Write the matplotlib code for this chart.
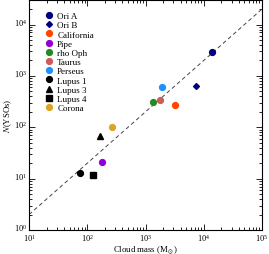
import matplotlib
matplotlib.use('Agg')
from matplotlib import pyplot as plt
from matplotlib import transforms
import numpy as np

# cloud data
clouds = ['Ori A', 'Ori B', 'California', 'Pipe', 'rho Oph', 'Taurus',
          'Perseus', 'Lupus 1', 'Lupus 3', 'Lupus 4', 'Corona']
cloud_mass = [13900, 7480, 3270, 181, 1320, 1780, 1930, 76, 165, 125, 261]
n_ysos = [2860, 625, 275, 21, 315, 340, 598, 13, 68, 12, 100]
colors = ['#000080', '#000080', '#ff4500', '#9400d3', '#228b22', '#cd5c5c',
          '#1e90ff', 'black', 'black', 'black', '#daa520']
markers = ['o', 'D', 'o', 'o', 'o', 'o', 'o', 'o', '^', 's', 'o']
sizes = [4.2, 3.0, 4.2, 4.2, 4.2, 4.2, 4.2, 4.2, 4.0, 4.0, 4.2]

# dashed relation N = 0.2 M
ratio = 0.2
line_mass = [10, 1e5]

plt.rcParams['font.family'] = ['Liberation Serif', 'DejaVu Serif']
plt.rcParams['mathtext.fontset'] = 'stix'
plt.rcParams['font.size'] = 6.5

fig = plt.figure(figsize=(2.69, 2.55), dpi=100)
ax = fig.add_axes([0.108, 0.094, 0.866, 0.902])

ax.plot(line_mass, [ratio * m for m in line_mass], ls=(0, (4, 3)),
        color='#444444', lw=0.7)

for name, m, n, c, mk, s in zip(clouds, cloud_mass, n_ysos, colors, markers, sizes):
    ax.plot(m, n, ls='none', marker=mk, color=c, ms=s, label=name)

ax.set_xscale('log')
ax.set_yscale('log')
ax.set_xlim(10, 1e5)
ax.set_ylim(1, 3e4)

ax.set_xlabel(r'Cloud mass (M$_\odot$)', labelpad=0, fontsize=6.3)
ax.set_ylabel(r'$N$(YSOs)', labelpad=0, fontsize=6.3)

ax.tick_params(which='both', direction='in', top=True, right=True, width=0.6,
               labelsize=6)
ax.tick_params(which='major', length=4, pad=1.5)
ax.tick_params(which='minor', length=2)
for sp in ax.spines.values():
    sp.set_linewidth(0.8)

ax.legend(loc='upper left', frameon=False, handlelength=0.8, handletextpad=0.5,
          labelspacing=0.1, borderaxespad=0.9, bbox_to_anchor=(0.02, 1.0))

# y tick labels sit a little above their ticks, as in the original
fig.canvas.draw()
shift = transforms.ScaledTranslation(0, 2.5 / 72, fig.dpi_scale_trans)
for lab in ax.get_yticklabels():
    lab.set_transform(lab.get_transform() + shift)

fig.savefig('out.png', dpi=100)
